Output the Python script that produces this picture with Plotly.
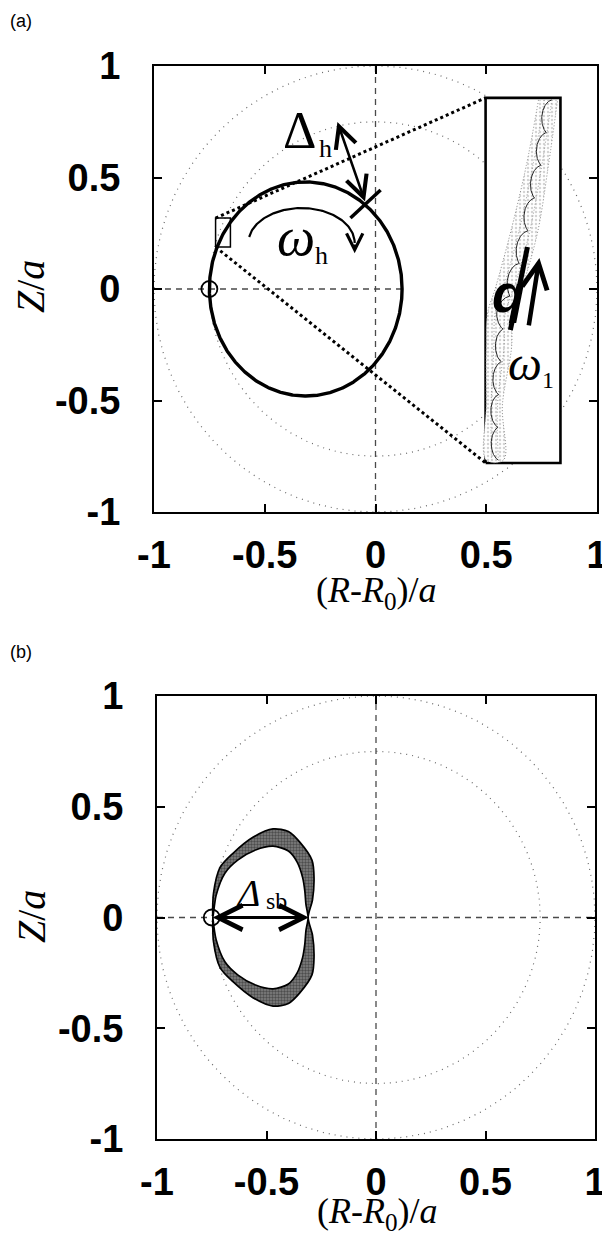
import numpy as np
import plotly.graph_objects as go

W, H = 602, 1237

# ---------------- data ----------------
tick_vals = [-1, -0.5, 0, 0.5, 1]
tick_text = ["-1", "-0.5", "0", "0.5", "1"]
circle_radii = [1.0, 0.75]          # dotted reference circles
start_point = [-0.75, 0.0]          # open-circle marker

# panel (a)
orbit_center = [-0.315, 0.0]
orbit_semi = [0.435, 0.48]
hline_a_R = [-1.0, 0.12]
zoom_box_R = [-0.722, -0.655]
zoom_box_Z = [0.188, 0.318]
inset_box_R = [0.497, 0.835]
inset_box_Z = [-0.78, 0.857]
band_Z = [0.848, 0.55, 0.251, 0.0, -0.108, -0.265, -0.52, -0.767]
band_left = [0.736, 0.68, 0.609, 0.54, 0.506, 0.50, 0.50, 0.50]
band_right = [0.822, 0.78, 0.731, 0.66, 0.62, 0.614, 0.573, 0.578]
gyro_loops = 11
gyro_amp_R = 0.016
gyro_amp_Z = 0.022
dh_tip = [-0.172, 0.749]
dh_tail = [-0.045, 0.386]
dh_bar_R = [-0.113, 0.023]
dh_bar_Z = [0.318, 0.444]
wh_center = [-0.334, 0.206]
wh_semi = [0.24, 0.157]
wh_angles_deg = [170, 0]
wh_head_Z = 0.16
slash_R = [0.686, 0.609]
slash_Z = [0.188, -0.184]
up_arrow_tail = [0.691, -0.170]
up_arrow_tip = [0.740, 0.139]

# panel (b)
sb_outer_R = [-0.745, -0.742, -0.712, -0.653, -0.562, -0.47, -0.40, -0.347, -0.292, -0.283, -0.29, -0.31]
sb_outer_Z = [0.0, 0.109, 0.226, 0.29, 0.362, 0.40, 0.388, 0.339, 0.258, 0.18, 0.08, 0.0]
sb_inner_R = [-0.745, -0.73, -0.69, -0.63, -0.55, -0.47, -0.40, -0.36, -0.335, -0.325, -0.32, -0.31]
sb_inner_Z = [0.0, 0.10, 0.20, 0.26, 0.305, 0.322, 0.30, 0.25, 0.18, 0.12, 0.06, 0.0]
dsb_R = [-0.745, -0.30]

# ---------------- layout geometry ----------------
dom_a_x = [154 / W, 597 / W]
dom_a_y = [1 - 512 / H, 1 - 66 / H]
dom_b_x = [157 / W, 595 / W]
dom_b_y = [1 - 1139 / H, 1 - 696 / H]


def px(x):
    return x / W


def py(y):
    return 1 - y / H


fig = go.Figure()

DOT_CIRCLE = dict(color="#6a6a6a", width=1.2, dash="1px,5px")
DASH_AX = dict(color="#4a4a4a", width=1.3, dash="6px,5px")


def add(tr, panel):
    if panel == "b":
        tr.update(xaxis="x2", yaxis="y2")
    tr.update(showlegend=False, hoverinfo="skip")
    fig.add_trace(tr)


th = np.linspace(0, 2 * np.pi, 721)
for panel in ["a", "b"]:
    for r in circle_radii:
        add(go.Scatter(x=r * np.cos(th), y=r * np.sin(th), mode="lines", line=DOT_CIRCLE), panel)
    add(go.Scatter(x=[0, 0], y=[-1, 1], mode="lines", line=DASH_AX), panel)

add(go.Scatter(x=hline_a_R, y=[0, 0], mode="lines", line=DASH_AX), "a")
add(go.Scatter(x=[-1, 1], y=[0, 0], mode="lines", line=DASH_AX), "b")

# ---- panel (a) ----
add(go.Scatter(x=orbit_center[0] + orbit_semi[0] * np.cos(th),
               y=orbit_center[1] + orbit_semi[1] * np.sin(th),
               mode="lines", line=dict(color="black", width=3.4)), "a")

add(go.Scatter(x=[zoom_box_R[0], inset_box_R[0]], y=[zoom_box_Z[1], inset_box_Z[1]],
               mode="lines", line=dict(color="black", width=3, dash="dot")), "a")
add(go.Scatter(x=[zoom_box_R[0], inset_box_R[0]], y=[zoom_box_Z[0], inset_box_Z[0]],
               mode="lines", line=dict(color="black", width=3, dash="dot")), "a")

add(go.Scatter(x=[zoom_box_R[0], zoom_box_R[1], zoom_box_R[1], zoom_box_R[0], zoom_box_R[0]],
               y=[zoom_box_Z[0], zoom_box_Z[0], zoom_box_Z[1], zoom_box_Z[1], zoom_box_Z[0]],
               mode="lines", line=dict(color="black", width=1.5)), "a")

add(go.Scatter(x=[inset_box_R[0], inset_box_R[1], inset_box_R[1], inset_box_R[0], inset_box_R[0]],
               y=[inset_box_Z[0], inset_box_Z[0], inset_box_Z[1], inset_box_Z[1], inset_box_Z[0]],
               mode="lines", fill="toself", fillcolor="white", line=dict(color="black", width=2.6)), "a")

add(go.Scatter(x=band_left + band_right[::-1], y=band_Z + band_Z[::-1], mode="lines",
               fill="toself", fillcolor="rgba(0,0,0,0)", line_shape="spline",
               fillpattern=dict(shape=".", fgcolor="#a8a8a8", bgcolor="white", size=4, solidity=0.3),
               line=dict(color="#888", width=1.0, dash="1px,2px")), "a")
zi = band_Z[::-1]
mid = [(l + r) / 2 for l, r in zip(band_left, band_right)]
for frac in [0.3, 0.7]:
    sub = [l + frac * (r - l) for l, r in zip(band_left, band_right)]
    add(go.Scatter(x=sub, y=band_Z, mode="lines", line_shape="spline",
                   line=dict(color="#999", width=1.0, dash="1px,2px")), "a")
t = np.linspace(0, 1, 1500)
zc = band_Z[0] + (band_Z[-1] - band_Z[0]) * t
rc = np.interp(zc, zi, mid[::-1])
gr = rc + gyro_amp_R * np.cos(2 * np.pi * gyro_loops * t)
gz = zc + gyro_amp_Z * np.sin(2 * np.pi * gyro_loops * t)
gr = np.clip(gr, inset_box_R[0] + 0.006, inset_box_R[1])
add(go.Scatter(x=gr, y=gz, mode="lines", line=dict(color="#222", width=1.0)), "a")

add(go.Scatter(x=dh_bar_R, y=dh_bar_Z, mode="lines", line=dict(color="black", width=3.5)), "a")

ang = np.radians(np.linspace(wh_angles_deg[0], wh_angles_deg[1], 100))
add(go.Scatter(x=wh_center[0] + wh_semi[0] * np.cos(ang), y=wh_center[1] + wh_semi[1] * np.sin(ang),
               mode="lines", line=dict(color="black", width=2.2)), "a")

add(go.Scatter(x=slash_R, y=slash_Z, mode="lines", line=dict(color="black", width=5)), "a")

for panel in ["a", "b"]:
    add(go.Scatter(x=[start_point[0]], y=[start_point[1]], mode="markers",
                   marker=dict(size=16, color="rgba(0,0,0,0)", line=dict(color="black", width=1.8))), panel)

# ---- panel (b) ----
ring_R = sb_outer_R + sb_outer_R[-2::-1] + sb_inner_R + sb_inner_R[-2::-1]
ring_Z = sb_outer_Z + [-z for z in sb_outer_Z[-2::-1]] + [-z for z in sb_inner_Z] + sb_inner_Z[-2::-1]
add(go.Scatter(x=ring_R, y=ring_Z, mode="lines", fill="toself", fillcolor="#6e6e6e",
               line_shape="spline",
               fillpattern=dict(shape=".", fgcolor="#1a1a1a", bgcolor="#808080", size=3, solidity=0.5),
               line=dict(color="black", width=1.7, smoothing=0.8)), "b")

# ---------------- annotations ----------------
ann = []
serif = "Liberation Serif, Times New Roman, serif"
sans = "Liberation Sans, Arial, sans-serif"


def txt(text, x, y, size, xref="x", yref="y", family=serif, **kw):
    ann.append(dict(text=text, x=x, y=y, xref=xref, yref=yref, showarrow=False,
                    font=dict(family=family, size=size, color="black"),
                    xanchor="center", yanchor="middle", **kw))


def arrow(tail, tip, width, head=5, size=1.0, both=False, panel="a"):
    xr, yr = ("x", "y") if panel == "a" else ("x2", "y2")
    d = dict(x=tip[0], y=tip[1], ax=tail[0], ay=tail[1], xref=xr, yref=yr, axref=xr, ayref=yr,
             showarrow=True, arrowhead=head, arrowsize=size, arrowwidth=width, arrowcolor="black",
             text="", standoff=0, startstandoff=0)
    if both:
        d.update(arrowside="end+start", startarrowhead=head, startarrowsize=size)
    ann.append(d)


arrow(dh_tail, dh_tip, 2.6, head=5, size=1.6, both=True)
arrow([wh_center[0] + wh_semi[0] * np.cos(np.radians(wh_angles_deg[1])),
       wh_center[1] + wh_semi[1] * np.sin(np.radians(wh_angles_deg[1]))],
      [wh_center[0] + wh_semi[0], wh_head_Z], 2.0, head=5, size=1.6)
arrow(up_arrow_tail, up_arrow_tip, 4.5, head=5, size=1.1)
arrow([dsb_R[1], 0], [dsb_R[0], 0], 3.0, head=5, size=1.6, both=True, panel="b")

txt("Δ", -0.343, 0.712, 52)
txt("h", -0.226, 0.632, 26)
txt("<i>ω</i>", -0.36, 0.235, 54)
txt("h", -0.245, 0.152, 26)
txt("<b><i>q</i></b>", 0.60, -0.02, 54, family=sans)
txt("<i>ω</i>", 0.673, -0.335, 48)
txt("1", 0.778, -0.41, 24)

txt("<i>Δ</i>", -0.584, 0.112, 38, xref="x2", yref="y2")
txt("sb", -0.455, 0.075, 24, xref="x2", yref="y2")

txt("(a)", px(21), py(21), 18, xref="paper", yref="paper", family=sans)
txt("(b)", px(21), py(652), 18, xref="paper", yref="paper", family=sans)

xt = "(<i>R</i>-<i>R</i><sub>0</sub>)/<i>a</i>"
yt = "<i>Z</i>/<i>a</i>"
txt(xt, px(376), py(592), 36, xref="paper", yref="paper")
txt(xt, px(377), py(1213), 36, xref="paper", yref="paper")
txt(yt, px(30), py(287), 40, xref="paper", yref="paper", textangle=-90)
txt(yt, px(31), py(917), 40, xref="paper", yref="paper", textangle=-90)

axis_common = dict(range=[-1, 1], tickmode="array", tickvals=tick_vals, ticktext=tick_text,
                   ticks="inside", ticklen=8, tickwidth=1.5, tickcolor="black",
                   showline=True, linewidth=2, linecolor="black", mirror="ticks",
                   showgrid=False, zeroline=False, ticklabeloverflow="allow", automargin=False,
                   tickfont=dict(family=sans, size=38, color="black", weight="bold"))

fig.update_layout(
    width=W, height=H, autosize=False,
    margin=dict(l=0, r=0, t=0, b=0, pad=0),
    paper_bgcolor="white", plot_bgcolor="white",
    xaxis=dict(domain=dom_a_x, anchor="y", ticklabelstandoff=8, **axis_common),
    yaxis=dict(domain=dom_a_y, anchor="x", ticklabelstandoff=24, **axis_common),
    xaxis2=dict(domain=dom_b_x, anchor="y2", ticklabelstandoff=8, **axis_common),
    yaxis2=dict(domain=dom_b_y, anchor="x2", ticklabelstandoff=24, **axis_common),
    annotations=ann,
)

fig.write_html("out.html")
